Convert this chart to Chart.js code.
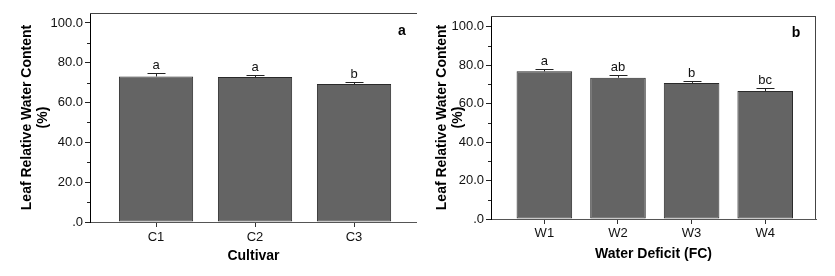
<!DOCTYPE html>
<html><head><meta charset="utf-8">
<script src="https://cdn.jsdelivr.net/npm/chart.js@4.4.1/dist/chart.umd.min.js"></script>
<style>
html,body{margin:0;padding:0;background:#fff;width:835px;height:276px;overflow:hidden}
canvas{position:absolute;top:0}
#ca{left:0}#cb{left:417px}
</style></head>
<body>
<canvas id="ca" width="417" height="276"></canvas>
<canvas id="cb" width="418" height="276"></canvas>
<script>
// ---- data ----
const cultivars = ['C1', 'C2', 'C3'];
const cultivarRWC = [73.1, 72.8, 69.3];
const cultivarErr = [1.9, 1.1, 0.8];
const cultivarLetters = ['a', 'a', 'b'];

const deficitLevels = ['W1', 'W2', 'W3', 'W4'];
const deficitRWC = [76.8, 73.5, 70.8, 66.6];
const deficitErr = [1.4, 1.5, 0.9, 1.6];
const deficitLetters = ['a', 'ab', 'b', 'bc'];

const yTickValues = [0, 20, 40, 60, 80, 100];
const yMinorValues = [10, 30, 50, 70, 90];
const yTitle = ['Leaf Relative Water Content', '(%)'];

const FONT = '"Liberation Sans", Arial, Helvetica, sans-serif';

function makeChart(canvasId, o) {
  const extras = {
    id: 'extras',
    afterDatasetsDraw(chart) {
      const ctx = chart.ctx;
      const ys = chart.scales.y;
      const meta = chart.getDatasetMeta(0);
      ctx.save();
      meta.data.forEach((bar, i) => {
        const capY = Math.round(ys.getPixelForValue(o.values[i] + o.errs[i])) + 0.5;
        const x = Math.round(bar.x) + 0.5;
        ctx.strokeStyle = '#222';
        ctx.lineWidth = 1;
        ctx.beginPath();
        ctx.moveTo(x, bar.y);
        ctx.lineTo(x, capY);
        ctx.moveTo(x - 9, capY);
        ctx.lineTo(x + 9, capY);
        ctx.stroke();
        ctx.fillStyle = '#111';
        ctx.font = '13px ' + FONT;
        ctx.textAlign = 'center';
        ctx.textBaseline = 'alphabetic';
        ctx.fillText(o.letters[i], bar.x, capY - 5);
      });
      ctx.restore();
    },
    afterDraw(chart) {
      const ctx = chart.ctx;
      const ca = chart.chartArea;
      const ys = chart.scales.y;
      ctx.save();
      ctx.strokeStyle = '#444';
      ctx.lineWidth = 1;
      ctx.beginPath();
      ctx.moveTo(ca.left, Math.round(ca.top) + 0.5);
      ctx.lineTo(ca.right, Math.round(ca.top) + 0.5);
      if (o.rightBorder) {
        ctx.moveTo(Math.round(ca.right) - 0.5, ca.top);
        ctx.lineTo(Math.round(ca.right) - 0.5, ca.bottom);
      }
      ctx.stroke();
      ctx.strokeStyle = '#222';
      ctx.beginPath();
      yMinorValues.forEach(v => {
        const y = Math.round(ys.getPixelForValue(v)) + 0.5;
        ctx.moveTo(ca.left - 3, y);
        ctx.lineTo(ca.left, y);
      });
      ctx.stroke();
      ctx.fillStyle = '#000';
      ctx.font = 'bold 14px ' + FONT;
      ctx.textAlign = 'center';
      ctx.textBaseline = 'middle';
      ctx.fillText(o.panel, o.panelX, o.panelY);
      ctx.restore();
    }
  };

  return new Chart(document.getElementById(canvasId), {
    type: 'bar',
    data: {
      datasets: [{
        data: o.labels.map((c, i) => ({ x: i, y: o.values[i] })),
        backgroundColor: '#646464',
        borderColor: '#2a2a2a',
        borderWidth: 1,
        borderSkipped: false,
        barPercentage: o.barPct,
        categoryPercentage: 1
      }]
    },
    options: {
      responsive: false,
      devicePixelRatio: 1,
      animation: false,
      layout: { padding: { top: o.top, right: o.right, left: 0, bottom: 0 } },
      plugins: { legend: { display: false }, tooltip: { enabled: false } },
      scales: {
        x: {
          type: 'linear',
          offset: false,
          min: o.xMin,
          max: o.xMax,
          afterBuildTicks: s => { s.ticks = o.labels.map((_, i) => ({ value: i })); },
          afterFit: s => { s.height = o.xHeight; },
          ticks: {
            callback: v => o.labels[v],
            font: { family: FONT, size: 13 },
            color: '#111',
            padding: o.xTickPad,
            maxRotation: 0,
            autoSkip: false
          },
          grid: { display: true, offset: false, drawOnChartArea: false, drawTicks: true, tickLength: 5, color: '#333' },
          border: { display: true, color: '#555', width: 1 },
          title: {
            display: true,
            text: o.xTitle,
            font: { family: FONT, size: 14, weight: 'bold', lineHeight: 1.2 },
            color: '#000',
            padding: { top: 0, bottom: o.xTitlePad }
          }
        },
        y: {
          min: 0,
          max: o.yMax,
          afterBuildTicks: s => { s.ticks = yTickValues.map(v => ({ value: v })); },
          afterFit: s => { s.width = o.yWidth; },
          ticks: {
            callback: v => (v === 0 ? '.0' : v.toFixed(1)),
            font: { family: FONT, size: 13 },
            color: '#111',
            padding: 2
          },
          grid: { display: true, drawOnChartArea: false, drawTicks: true, tickLength: 5, color: '#222' },
          border: { display: true, color: '#000', width: 1 },
          title: {
            display: true,
            text: yTitle,
            font: { family: FONT, size: 14, weight: 'bold', lineHeight: 1.15 },
            color: '#000',
            padding: { top: o.yTitlePad, bottom: 0 }
          }
        }
      }
    },
    plugins: [extras]
  });
}

makeChart('ca', {
  labels: cultivars, values: cultivarRWC, errs: cultivarErr, letters: cultivarLetters,
  xTitle: 'Cultivar', panel: 'a', panelX: 402, panelY: 31,
  xMin: -0.667, xMax: 2.636, yMax: 105, barPct: 0.75,
  top: 13, right: 0, yWidth: 90, xHeight: 54, xTickPad: 3, xTitlePad: 11.6, yTitlePad: 19,
  rightBorder: false
});

makeChart('cb', {
  labels: deficitLevels, values: deficitRWC, errs: deficitErr, letters: deficitLetters,
  xTitle: 'Water Deficit (FC)', panel: 'b', panelX: 379, panelY: 33,
  xMin: -0.725, xMax: 3.69, yMax: 105.6, barPct: 0.755,
  top: 16, right: 19, yWidth: 74, xHeight: 57, xTickPad: 2, xTitlePad: 13.6, yTitlePad: 17,
  rightBorder: true
});
</script>
</body></html>
